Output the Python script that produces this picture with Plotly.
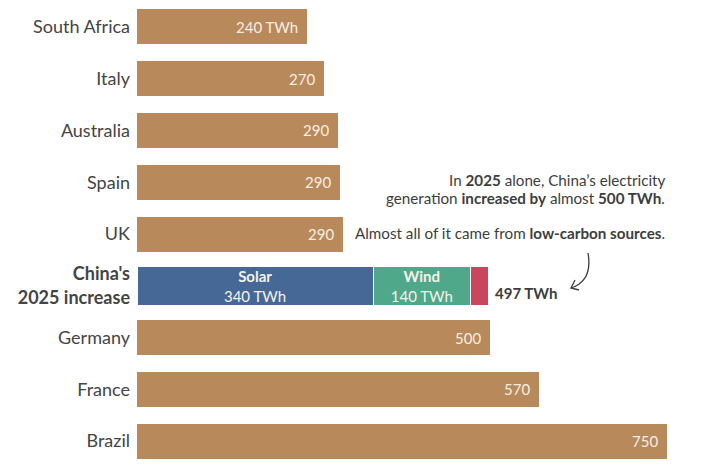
import plotly.graph_objects as go

# ---- data ----
categories = ["South Africa", "Italy", "Australia", "Spain", "UK",
              "China's 2025 increase", "Germany", "France", "Brazil"]
country_values = [241, 264, 285, 287, 291, None, 500, 569, 750]
country_labels = ["240 TWh", "270", "290", "290", "290", "", "500", "570", "750"]

china_cat = "China's 2025 increase"
china_sources = ["Solar", "Wind", "Other"]
china_values = [334, 138, 25]
china_source_labels = ["340 TWh", "140 TWh", ""]
china_total_label = "497 TWh"

# ---- style ----
FONT = "Lato"
TEXT = "#3d3d3d"
TAN = "#B8895B"
SRC_COLORS = ["#466897", "#4FA88A", "#C9475E"]
W, H = 706, 468
ML, MR, MT, MB = 137, 0, 1, 1
PW, PH = W - ML - MR, H - MT - MB


def px(x, y):
    return (x - ML) / PW, 1 - (y - MT) / PH


fig = go.Figure()

fig.add_trace(go.Bar(
    y=categories, x=country_values, orientation="h",
    marker=dict(color=TAN, line=dict(width=0)),
    width=0.676, hoverinfo="skip", showlegend=False,
))

for name, val, lab, col in zip(china_sources, china_values, china_source_labels, SRC_COLORS):
    txt = f"<b>{name}</b><br>{lab}" if lab else ""
    fig.add_trace(go.Bar(
        y=[china_cat], x=[val], orientation="h",
        marker=dict(color=col, line=dict(width=1, color="white")),
        width=0.754, text=[txt], textposition="inside",
        insidetextanchor="middle", constraintext="none",
        insidetextfont=dict(family=FONT, size=15, color="#f4f1ea"),
        hoverinfo="skip", showlegend=False,
    ))

annotations = []
for cat, v, lab in zip(categories, country_values, country_labels):
    if v is None:
        continue
    annotations.append(dict(
        x=v, y=cat, xref="x", yref="y", text=lab, showarrow=False,
        xanchor="right", yanchor="middle", xshift=-7,
        font=dict(family=FONT, size=15, color="#f7efe2"),
    ))

annotations.append(dict(
    x=sum(china_values), y=china_cat, xref="x", yref="y",
    text=f"<b>{china_total_label}</b>", showarrow=False,
    xanchor="left", yanchor="middle", xshift=5, yshift=-7,
    font=dict(family=FONT, size=15, color=TEXT),
))

note_lines = [
    ("In <b>2025</b> alone, China’s electricity", 180),
    ("generation <b>increased by</b> almost <b>500 TWh</b>.", 197.5),
    ("Almost all of it came from <b>low-carbon sources</b>.", 233),
]
for t, yy in note_lines:
    xp, yp = px(667, yy)
    annotations.append(dict(
        x=xp, y=yp, xref="paper", yref="paper", text=t, showarrow=False,
        xanchor="right", yanchor="middle", align="right",
        font=dict(family=FONT, size=15.2, color=TEXT),
    ))

# curved arrow
x0, y0 = px(588, 253)
c1x, c1y = px(591, 270)
c2x, c2y = px(586, 283)
x1, y1 = px(571, 288)
shapes = [dict(
    type="path", xref="paper", yref="paper",
    path=f"M {x0} {y0} C {c1x} {c1y}, {c2x} {c2y}, {x1} {y1}",
    line=dict(color=TEXT, width=1.3),
)]
ax, ay = px(575, 280)
bx, by = px(579, 290)
shapes.append(dict(
    type="path", xref="paper", yref="paper",
    path=f"M {ax} {ay} L {x1} {y1} L {bx} {by}",
    line=dict(color=TEXT, width=1.3),
))

fig.update_layout(
    width=W, height=H, barmode="stack",
    margin=dict(l=ML, r=MR, t=MT, b=MB),
    paper_bgcolor="white", plot_bgcolor="white",
    font=dict(family=FONT, color=TEXT),
    xaxis=dict(range=[0, 805], visible=False, fixedrange=True),
    yaxis=dict(
        type="category", categoryorder="array", categoryarray=categories,
        autorange="reversed", showgrid=False, zeroline=False, showline=False,
        ticks="", ticklabelstandoff=6,
        tickmode="array", tickvals=categories,
        ticktext=[("<b>China's<br>2025 increase</b>" if c == china_cat else c)
                  for c in categories],
        tickfont=dict(family=FONT, size=18, color="#444444"),
    ),
    annotations=annotations, shapes=shapes,
)

fig.write_html("out.html")
